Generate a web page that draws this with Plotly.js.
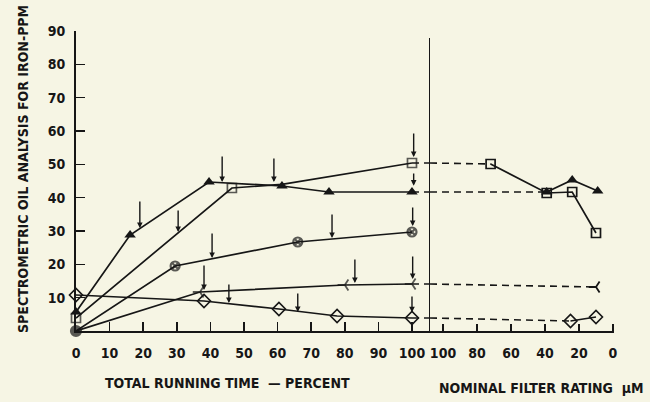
<!DOCTYPE html>
<html>
<head>
<meta charset="utf-8">
<script src="https://cdn.plot.ly/plotly-3.0.1.min.js"></script>
<style>
  html, body { margin: 0; padding: 0; background: #f6f5e4; }
  #chart { width: 650px; height: 402px; }
</style>
</head>
<body>
<div id="chart"></div>
<script>
// ---------- DATA ----------
// Left panel: total running time (percent) vs iron (ppm)
const triTime   = [0, 16.1, 39.6, 61.3, 75.3, 100];
const triPpm    = [5.7, 28.8, 44.7, 43.5, 41.7, 41.7];
const sqTime    = [0, 46.4, 61.3, 100];
const sqPpm     = [3.9, 42.9, 44.0, 50.4];
const circTime  = [0, 29.5, 66, 100];
const circPpm   = [0, 19.5, 26.7, 29.7];
const angTime   = [0, 36.9, 80, 100];
const angPpm    = [0, 11.7, 13.8, 14.1];
const diaTime   = [0, 38.1, 60.4, 77.7, 100];
const diaPpm    = [10.8, 9.0, 6.6, 4.5, 3.9];

// Right panel: nominal filter rating (micrometre) vs iron (ppm)
const triRating = [39, 24, 9];
const triRPpm   = [41.7, 45.3, 42.0];
const sqRating  = [72, 39, 24, 10];
const sqRPpm    = [50.1, 41.4, 41.7, 29.4];
const angRating = [10];
const angRPpm   = [13.2];
const diaRating = [25, 10];
const diaRPpm   = [3.0, 4.2];

// Downward pointer arrows (time percent, tail ppm, tip ppm)
const ptrTime = [19, 30.4, 43.5, 58.9, 40.5, 38.1, 45.5, 66, 76.2, 83, 100.5, 100.5, 100.2, 100.2, 100];
const ptrTail = [39.3, 36.6, 52.8, 52.2, 29.7, 20.1, 14.4, 11.7, 35.4, 21.9, 59.7, 47.7, 37.5, 22.8, 10.8];
const ptrTip  = [30.9, 29.7, 44.7, 44.7, 21.9, 12.3, 8.4, 5.7, 27.9, 14.4, 52.2, 43.6, 31.5, 15.6, 5.6];

// Tick labels
const timeTicks   = [0, 10, 20, 30, 40, 50, 60, 70, 80, 90, 100];
const ratingTicks = [100, 80, 60, 40, 20, 0];
const ppmTicks    = [10, 20, 30, 40, 50, 60, 70, 80, 90];

// ---------- LAYOUT CONSTANTS ----------
const timeRange   = [0, 105.36];
const ratingRange = [107.65, -0.59];
const split = 0.658;
const ink = '#161616';
const FONT = "'DejaVu Sans Condensed', 'Liberation Sans Narrow', 'Arial Narrow', sans-serif";

function solid(x, y, axis, extra) {
  return Object.assign({
    x: x, y: y, xaxis: axis, yaxis: 'y', type: 'scatter', mode: 'lines+markers',
    cliponaxis: false, hoverinfo: 'skip',
    line: { color: ink, width: 1.7 }
  }, extra || {});
}
function dashed(x, y, axis) {
  return {
    x: x, y: y, xaxis: axis, yaxis: 'y', type: 'scatter', mode: 'lines',
    cliponaxis: false, hoverinfo: 'skip',
    line: { color: ink, width: 1.6, dash: '7px,5px' }
  };
}

const last = a => a[a.length - 1];
const mTri = { symbol: 'triangle-up', size: 10, color: ink };
const mSq  = { symbol: 'square-open', size: 9, color: ink, line: { color: ink, width: 1.7 } };
const mDia = { symbol: 'diamond-open', size: 10, color: ink, line: { color: ink, width: 1.6 } };
const mAng = { symbol: 'y-left', size: 9, color: ink, line: { color: ink, width: 1.8 } };

const traces = [
  solid(triTime, triPpm, 'x', { marker: mTri }),
  solid(sqTime, sqPpm, 'x', { marker: Object.assign({}, mSq, { size: [9, 9, 0, 9] }) }),
  solid(circTime, circPpm, 'x', { marker: { symbol: ['circle', 'circle-x-open', 'circle-x-open', 'circle-x-open'], size: [10, 9, 9, 9], color: ink, line: { color: ink, width: 2.2 } } }),
  solid(angTime, angPpm, 'x', { marker: Object.assign({}, mAng, { size: [0, 9, 9, 9] }) }),
  solid(diaTime, diaPpm, 'x', { marker: mDia }),

  // dashed links from 100 % to the filter-rating panel
  dashed([last(sqTime), timeRange[1]], [last(sqPpm), last(sqPpm)], 'x'),
  dashed([ratingRange[0], sqRating[0]], [last(sqPpm), sqRPpm[0]], 'x2'),
  dashed([last(triTime), timeRange[1]], [last(triPpm), last(triPpm)], 'x'),
  dashed([ratingRange[0], triRating[0]], [last(triPpm), triRPpm[0]], 'x2'),
  dashed([last(angTime), timeRange[1]], [last(angPpm), last(angPpm)], 'x'),
  dashed([ratingRange[0], angRating[0]], [last(angPpm), angRPpm[0]], 'x2'),
  dashed([last(diaTime), timeRange[1]], [last(diaPpm), last(diaPpm)], 'x'),
  dashed([ratingRange[0], diaRating[0]], [last(diaPpm), diaRPpm[0]], 'x2'),

  solid(triRating, triRPpm, 'x2', { marker: mTri }),
  solid(sqRating, sqRPpm, 'x2', { marker: mSq }),
  solid(angRating, angRPpm, 'x2', { mode: 'markers', marker: mAng }),
  solid(diaRating, diaRPpm, 'x2', { marker: mDia })
];

const tickFont = { family: FONT, size: 14, color: ink, weight: 'bold' };
const titleFont = { family: FONT, size: 14, color: ink, weight: 'bold' };

const annotations = ptrTime.map((t, i) => ({
  x: t, y: ptrTip[i], ax: t, ay: ptrTail[i],
  xref: 'x', yref: 'y', axref: 'x', ayref: 'y',
  text: '', showarrow: true, arrowhead: 2, arrowsize: 0.8, arrowwidth: 1.4,
  arrowcolor: ink, standoff: 0, startstandoff: 0
}));

annotations.push(
  { text: 'SPECTROMETRIC OIL ANALYSIS FOR IRON-PPM', textangle: -90,
    xref: 'paper', yref: 'paper', x: -0.0985, y: 0.54, xanchor: 'center', yanchor: 'middle',
    showarrow: false, font: titleFont },
  { text: 'TOTAL RUNNING TIME  \u2014 PERCENT',
    xref: 'paper', yref: 'paper', x: 0.2825, y: -0.173, xanchor: 'center', yanchor: 'middle',
    showarrow: false, font: titleFont },
  { text: 'NOMINAL FILTER RATING  \u03bcM',
    xref: 'paper', yref: 'paper', x: 0.866, y: -0.19, xanchor: 'center', yanchor: 'middle',
    showarrow: false, font: titleFont }
);

const layout = {
  width: 650, height: 402,
  margin: { l: 76, r: 36, t: 31, b: 71, pad: 0 },
  paper_bgcolor: '#f6f5e4', plot_bgcolor: '#f6f5e4',
  showlegend: false,
  xaxis: {
    domain: [0, split], range: timeRange, anchor: 'y',
    showgrid: false, zeroline: false, showline: true, linecolor: ink, linewidth: 1.8,
    ticks: 'inside', ticklen: 9, tickwidth: 1.6, tickcolor: ink,
    tickvals: timeTicks, ticktext: timeTicks.map(String),
    tickfont: tickFont, ticklabelstandoff: 8
  },
  xaxis2: {
    domain: [split, 1], range: ratingRange, anchor: 'y',
    showgrid: false, zeroline: false, showline: true, linecolor: ink, linewidth: 1.8,
    ticks: 'inside', ticklen: 7, tickwidth: 1.6, tickcolor: ink,
    tickvals: ratingTicks, ticktext: ratingTicks.map(String),
    tickfont: tickFont, ticklabelstandoff: 8
  },
  yaxis: {
    domain: [0, 1], range: [0, 90], anchor: 'x',
    showgrid: false, zeroline: false, showline: true, linecolor: ink, linewidth: 2,
    ticks: 'inside', ticklen: 9, tickwidth: 1.6, tickcolor: ink,
    tickvals: ppmTicks, ticktext: ppmTicks.map(String),
    tickfont: tickFont, ticklabelstandoff: 6
  },
  shapes: [
    { type: 'line', xref: 'x', yref: 'y', x0: timeRange[1], x1: timeRange[1], y0: -7.2, y1: 87.9,
      line: { color: ink, width: 2 } }
  ],
  annotations: annotations
};

Plotly.newPlot('chart', traces, layout, { displayModeBar: false, staticPlot: true });
</script>
</body>
</html>
